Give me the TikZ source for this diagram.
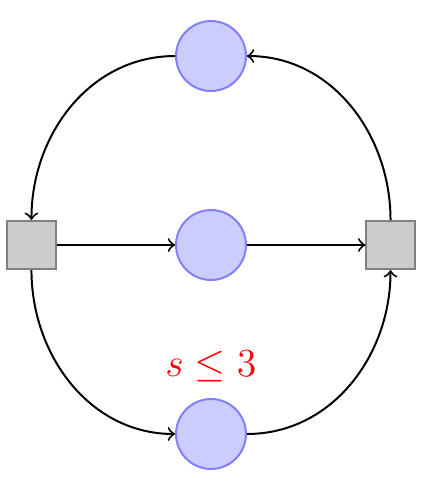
\documentclass[tikz,border=0pt]{standalone}
\usepackage{amsmath}
\usepackage{xcolor}
\usetikzlibrary{positioning}
\tikzset{
  place/.style = {circle, draw=blue!50, fill=blue!20, semithick, minimum size=7.4mm},
  transbox/.style = {rectangle, draw=black!50, fill=black!20, semithick, minimum size=5.1mm},
  arrow/.style = {semithick,->},
}
\begin{document}
\begin{tikzpicture}[node distance=2cm and 1.9cm, on grid]
  \useasboundingbox (-2.233,-2.614) rectangle (2.349,2.593);

  % Places
  \node[place] (mid) {};
  \node[place, above=of mid] (top) {};
  \node[place, below=of mid] (bot) {};

  % Transitions
  \node[transbox, left=of mid]  (tl) {};
  \node[transbox, right=of mid] (tr) {};

  % Capacity label
  \node[above=0.72cm of bot, text=red, font=\fontsize{13.2}{16}\selectfont] (cap) {$s \leq 3$};

  % Arcs
  \draw[arrow] (top.west) to[out=180, in=90] (tl.north);
  \draw[arrow] (tl.east) -- (mid.west);
  \draw[arrow] (mid.east) -- (tr.west);
  \draw[arrow] (tr.north) to[out=90, in=0] (top.east);
  \draw[arrow] (tl.south) to[out=-90, in=180] (bot.west);
  \draw[arrow] (bot.east) to[out=0, in=-90] (tr.south);

\end{tikzpicture}
\end{document}
